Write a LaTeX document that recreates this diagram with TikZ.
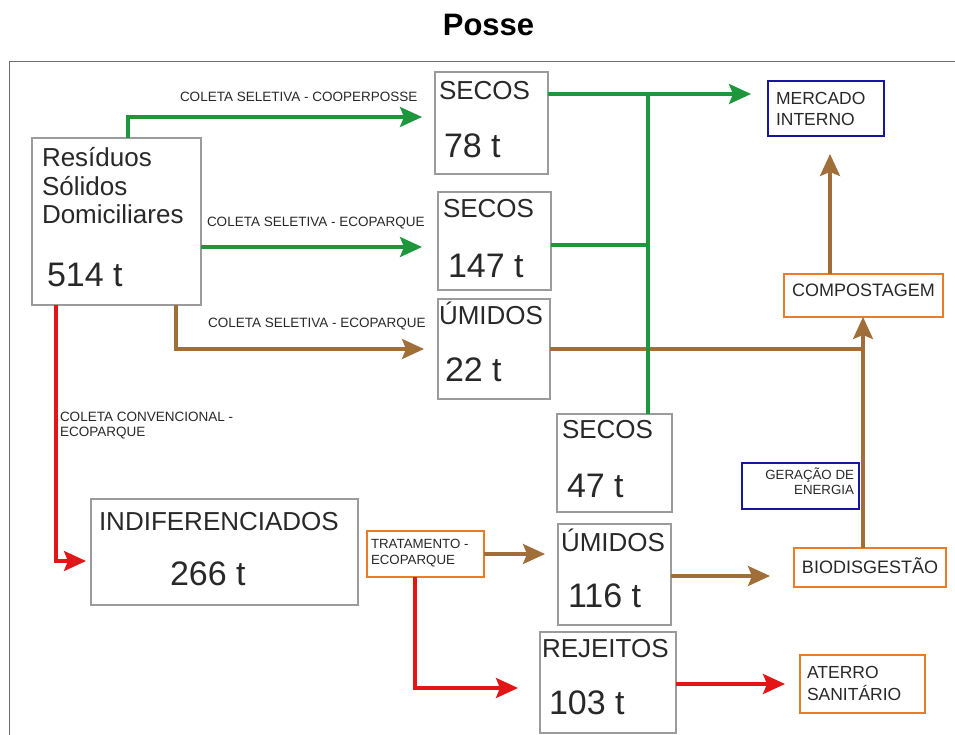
\documentclass[tikz,border=0pt]{standalone}
\usepackage{fontspec}
\setmainfont{Liberation Sans}
\usetikzlibrary{arrows.meta,calc}
\definecolor{greenC}{RGB}{30,150,60}
\definecolor{brownC}{RGB}{160,110,56}
\definecolor{redC}{RGB}{226,22,22}
\definecolor{orangeC}{RGB}{234,124,40}
\definecolor{blueC}{RGB}{22,22,160}
\definecolor{boxgray}{RGB}{155,155,155}
\definecolor{framegray}{RGB}{110,110,110}
\definecolor{txt}{RGB}{40,40,40}
\begin{document}
\begin{tikzpicture}[x=1pt,y=-1pt,
  basebox/.style={rectangle, inner sep=0pt, outer sep=0pt, anchor=north west},
  gbox/.style={basebox, draw=boxgray, line width=1.4pt},
  obox/.style={basebox, draw=orangeC, line width=2.8pt},
  bbox/.style={basebox, draw=blueC, line width=2.4pt},
  tx/.style={inner sep=0pt, outer sep=0pt, anchor=base west, text=txt},
  lbl/.style={tx, font=\fontsize{13.5}{15}\selectfont, align=left},
  mid/.style={tx, font=\fontsize{17.5}{21}\selectfont, align=left},
  big/.style={tx, font=\fontsize{26}{28}\selectfont},
  num/.style={tx, font=\fontsize{34}{36}\selectfont},
  tipS/.style={-{Stealth[length=22pt,width=20pt,inset=4pt]}},
  gline/.style={draw=greenC, line width=3.3pt},
  bline/.style={draw=brownC, line width=3.1pt},
  rline/.style={draw=redC, line width=3.3pt},
  garrow/.style={gline, tipS},
  barrow/.style={bline, tipS},
  rarrow/.style={rline, tipS}]
\useasboundingbox (0,0) rectangle (955,735);
% frame and title
\draw[framegray, line width=1pt] (9,735) -- (9,62) -- (955,62);
\node[inner sep=0pt, anchor=base, font=\bfseries\fontsize{31}{36}\selectfont] (title) at (488.5,36) {Posse};

% boxes
\node[gbox, minimum width=169pt, minimum height=167pt] (res) at (32,138) {};
\node[gbox, minimum width=113pt, minimum height=102pt] (s78) at (435,72) {};
\node[gbox, minimum width=113pt, minimum height=98pt] (s147) at (438,192) {};
\node[gbox, minimum width=112pt, minimum height=100pt] (u22) at (438,299) {};
\node[gbox, minimum width=115pt, minimum height=98pt] (s47) at (557,414) {};
\node[gbox, minimum width=113pt, minimum height=101pt] (u116) at (558,524) {};
\node[gbox, minimum width=136pt, minimum height=101pt] (rej) at (540,632) {};
\node[gbox, minimum width=267pt, minimum height=106pt] (ind) at (91,499) {};
\node[obox, minimum width=117pt, minimum height=46pt] (trat) at (367,531) {};
\node[bbox, minimum width=116pt, minimum height=55pt] (merc) at (768,81) {};
\node[obox, minimum width=159pt, minimum height=43pt] (comp) at (784,274) {};
\node[obox, minimum width=152pt, minimum height=39pt] (bio) at (794,548) {};
\node[bbox, minimum width=117pt, minimum height=46pt] (ger) at (742,463) {};
\node[obox, minimum width=125pt, minimum height=58pt] (ater) at (800,655) {};

% box texts (multi-line nodes: base = last line)
\node[tx, font=\fontsize{26}{28.5}\selectfont, align=left] (restx) at (42,224) {Resíduos\\Sólidos\\Domiciliares};
\node[num] (resn) at (47,287) {514 t};
\node[big] (s78a) at (439,100) {SECOS};
\node[num] (s78b) at (444,158) {78 t};
\node[big] (s147a) at (443,218) {SECOS};
\node[num] (s147b) at (448,277) {147 t};
\node[big] (u22a) at (439,324) {ÚMIDOS};
\node[num] (u22b) at (445,381) {22 t};
\node[big] (s47a) at (562,438) {SECOS};
\node[num] (s47b) at (567,497) {47 t};
\node[big] (u116a) at (561,551) {ÚMIDOS};
\node[num] (u116b) at (568,607) {116 t};
\node[big] (reja) at (542,657) {REJEITOS};
\node[num] (rejb) at (549,714) {103 t};
\node[big] (inda) at (99,530) {INDIFERENCIADOS};
\node[num] (indb) at (170,585) {266 t};
\node[lbl, font=\fontsize{13.3}{16}\selectfont] (tratx) at (371,564) {TRATAMENTO -\\ECOPARQUE};
\node[mid] (mercx) at (776,126) {MERCADO\\INTERNO};
\node[tx, font=\fontsize{18}{21}\selectfont, anchor=base] (compx) at (863.5,296.5) {COMPOSTAGEM};
\node[tx, font=\fontsize{18}{21}\selectfont, anchor=base] (biox) at (870,573) {BIODISGESTÃO};
\node[tx, font=\fontsize{13.3}{15}\selectfont, align=right, anchor=base east] (gerx) at (854,494) {GERAÇÃO DE\\ENERGIA};
\node[mid, font=\fontsize{17.5}{22}\selectfont] (aterx) at (807,700) {ATERRO\\SANITÁRIO};

% connector labels
\node[lbl] (l1) at (180,102) {COLETA SELETIVA - COOPERPOSSE};
\node[lbl] (l2) at (207,226.5) {COLETA SELETIVA - ECOPARQUE};
\node[lbl] (l3) at (208,327.5) {COLETA SELETIVA - ECOPARQUE};
\node[lbl] (l4) at (60,436.5) {COLETA CONVENCIONAL -\\ECOPARQUE};

% connectors
\coordinate (gtop) at (648,94);
\coordinate (gmid) at (648,245);
\coordinate (bj) at (863,349);
\draw[garrow, shorten >=13pt] (res.north -| 128,0) |- (s78.west |- 0,117);
\draw[garrow, shorten >=16pt] (res.east |- 0,247) -- (s147.west |- 0,247);
\draw[barrow, shorten >=14pt] (res.south -| 176,0) |- (u22.west |- 0,349);
\draw[rarrow, shorten >=5pt] (res.south -| 56,0) |- (ind.west |- 0,561);
\draw[bline] (u22.east |- bj) -- (bj);
\draw[barrow] (bio.north -| bj) -- (comp.south -| bj);
\draw[barrow, shorten >=18pt] (comp.north -| 830,0) -- (merc.south -| 830,0);
\draw[garrow, shorten >=17pt] (s78.east |- gtop) -- (merc.west |- gtop);
\draw[gline] (s147.east |- gmid) -- (gmid);
\draw[gline] (s47.north -| gtop) -- (gtop);
\draw[barrow, shorten >=13pt] (trat.east) -- (u116.west |- trat.east);
\draw[rarrow, shorten >=22pt] (trat.south -| 415,0) |- (rej.west |- 0,688);
\draw[barrow, shorten >=24pt] (u116.east |- 0,576) -- (bio.west |- 0,576);
\draw[rarrow, shorten >=15pt] (rej.east |- ater.west) -- (ater.west);
\end{tikzpicture}
\end{document}
